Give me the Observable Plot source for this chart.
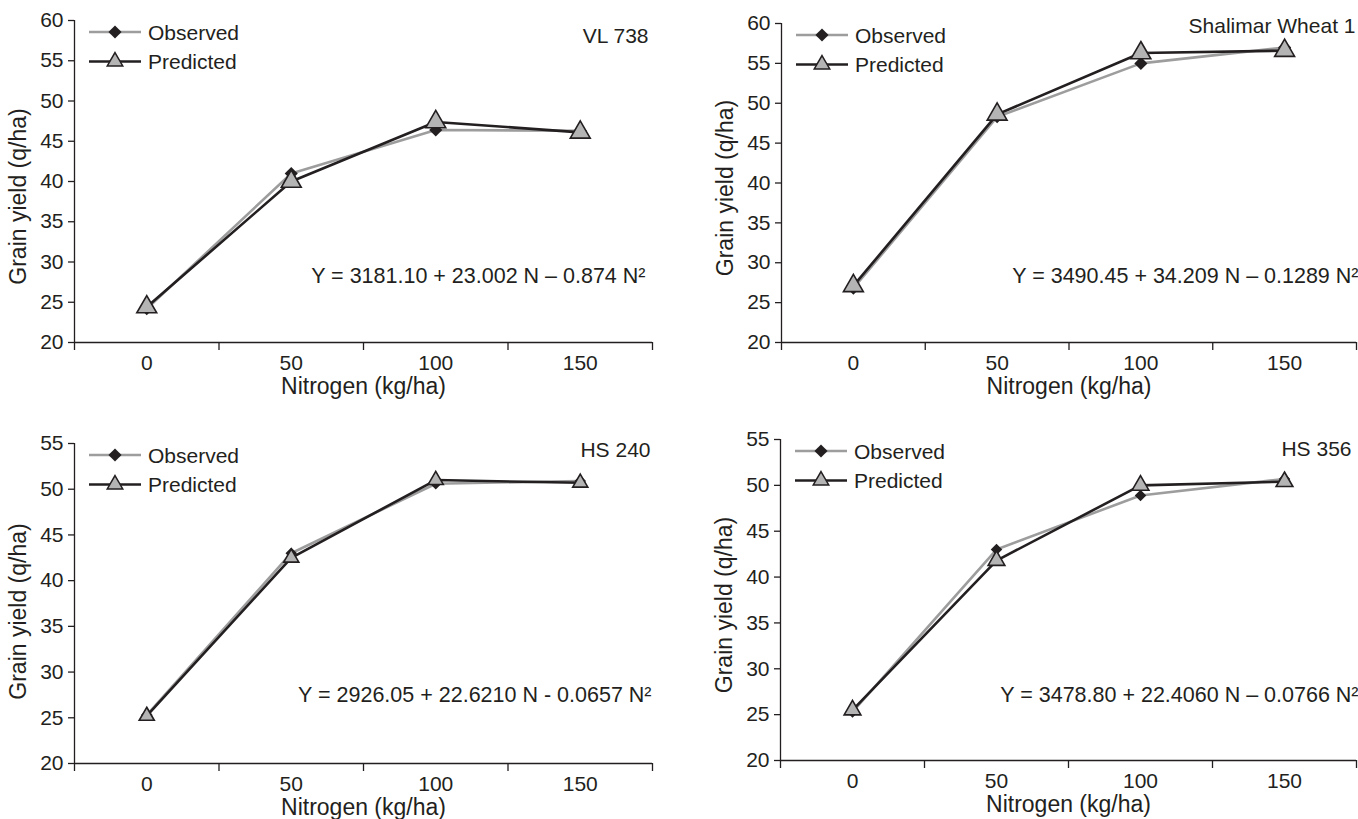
<!DOCTYPE html>
<html><head><meta charset="utf-8">
<script src="https://cdn.jsdelivr.net/npm/d3@7"></script>
<script src="https://cdn.jsdelivr.net/npm/@observablehq/plot@0.6"></script>
<style>
body{margin:0;background:#fff;width:1358px;height:819px;overflow:hidden;position:relative;font-family:"Liberation Sans",Arial,sans-serif;}
.panel{position:absolute;}
</style></head><body>
<div id="p0" class="panel" style="left:0;top:0"></div>
<div id="p1" class="panel" style="left:680px;top:0"></div>
<div id="p2" class="panel" style="left:0;top:400px"></div>
<div id="p3" class="panel" style="left:680px;top:400px"></div>
<script>
// ---- data ----
const nitrogen = [0, 50, 100, 150];
const nitrogenTicks = [0, 50, 100, 150];
const varieties = ["VL 738", "Shalimar Wheat 1", "HS 240", "HS 356"];
const observedVL738 = [24.2, 41.0, 46.4, 46.3];
const predictedVL738 = [24.4, 40.0, 47.4, 46.1];
const observedSW1 = [26.8, 48.3, 55.0, 57.0];
const predictedSW1 = [27.1, 48.6, 56.3, 56.6];
const observedHS240 = [25.3, 43.0, 50.6, 50.9];
const predictedHS240 = [25.2, 42.5, 51.0, 50.7];
const observedHS356 = [25.3, 43.0, 48.9, 50.7];
const predictedHS356 = [25.5, 41.8, 50.0, 50.4];
const equations = [
  "Y = 3181.10 + 23.002 N \u2013 0.874 N\u00b2",
  "Y = 3490.45 + 34.209 N \u2013 0.1289 N\u00b2",
  "Y = 2926.05 + 22.6210 N - 0.0657 N\u00b2",
  "Y = 3478.80 + 22.4060 N \u2013 0.0766 N\u00b2"
];
const yMax = [60, 60, 55, 55];
const yMin = 20;
const seriesNames = ["Observed", "Predicted"];
const xLabel = "Nitrogen (kg/ha)";
const yLabel = "Grain yield (q/ha)";

const observed = [observedVL738, observedSW1, observedHS240, observedHS356];
const predicted = [predictedVL738, predictedSW1, predictedHS240, predictedHS356];

// ---- layout / style ----
const layouts = [
  {width:680, height:400, ml:74, mr:28, mt:20, mb:58, triR:9.5, diaR:5.9, nameDx:-4, nameDy:16, eqDx:-7, eqDy:256, ylDy:15},
  {width:678, height:400, ml:101, mr:2, mt:23, mb:58, triR:9.5, diaR:5.9, nameDx:-1, nameDy:3, eqDx:2, eqDy:253, ylDy:5},
  {width:680, height:419, ml:74, mr:28, mt:43, mb:56, triR:7.2, diaR:5.2, nameDx:-2, nameDy:7, eqDx:-1, eqDy:252, ylDy:8},
  {width:678, height:419, ml:100, mr:2, mt:39, mb:59, triR:8, diaR:5.2, nameDx:-5, nameDy:10, eqDx:2, eqDy:256, ylDy:5}
];
const INK = "#231f20";
const GRAY_LINE = "#9d9d9d";
const TRI_FILL = "#b4b4b4";
const FS = 21;      // tick labels, legend, variety names
const FS_TITLE = 23; // axis titles
const FS_EQ = 21.5;

function legend() {
  return (index, scales, values, dims) => {
    const g = d3.create("svg:g");
    const x0 = dims.marginLeft;
    const y0 = dims.marginTop;
    const rows = [
      {y: y0 + 12, stroke: GRAY_LINE, sym: d3.symbolDiamond2, size: Math.PI*5.9*5.9, fill: INK, sStroke: "none", name: seriesNames[0]},
      {y: y0 + 41.5, stroke: INK, sym: d3.symbolTriangle2, size: Math.PI*7.4*7.4, fill: TRI_FILL, sStroke: INK, name: seriesNames[1]}
    ];
    for (const r of rows) {
      g.append("line").attr("x1", x0 + 15).attr("x2", x0 + 67).attr("y1", r.y).attr("y2", r.y)
        .attr("stroke", r.stroke).attr("stroke-width", 2.6);
      g.append("path").attr("d", d3.symbol(r.sym, r.size)()).attr("transform", `translate(${x0 + 41},${r.y})`)
        .attr("fill", r.fill).attr("stroke", r.sStroke).attr("stroke-width", 1.5);
      g.append("text").attr("x", x0 + 74).attr("y", r.y).attr("dy", "0.36em")
        .attr("text-anchor", "start").attr("font-size", FS).attr("fill", INK).text(r.name);
    }
    return g.node();
  };
}

for (let i = 0; i < 4; i++) {
  const L = layouts[i];
  const obs = nitrogen.map((n, j) => ({n, v: observed[i][j]}));
  const pre = nitrogen.map((n, j) => ({n, v: predicted[i][j]}));
  const chart = Plot.plot({
    width: L.width, height: L.height,
    marginLeft: L.ml, marginRight: L.mr, marginTop: L.mt, marginBottom: L.mb,
    style: {fontFamily: "'Liberation Sans', Arial, sans-serif", fontSize: FS + "px", color: INK, background: "white", overflow: "visible"},
    x: {domain: [-25, 175], axis: null},
    y: {domain: [yMin, yMax[i]], axis: null},
    marks: [
      Plot.axisY({ticks: d3.range(yMin, yMax[i] + 1, 5), tickSize: 6, tickPadding: 5, label: null, fontSize: FS, stroke: INK, strokeWidth: 1.3}),
      Plot.axisX({ticks: nitrogenTicks, tickSize: 0, tickPadding: 13, label: null, fontSize: FS}),
      Plot.axisX({ticks: [-25, 25, 75, 125, 175], tickSize: 8, tickFormat: () => "", label: null, stroke: INK, strokeWidth: 1.3}),
      Plot.ruleY([yMin], {stroke: INK, strokeWidth: 1.3}),
      Plot.ruleX([-25], {stroke: INK, strokeWidth: 1.3}),
      Plot.line(obs, {x: "n", y: "v", stroke: GRAY_LINE, strokeWidth: 2.6}),
      Plot.line(pre, {x: "n", y: "v", stroke: INK, strokeWidth: 2.6}),
      Plot.dot(obs, {x: "n", y: "v", symbol: "diamond2", r: L.diaR, fill: INK, stroke: "none"}),
      Plot.dot(pre, {x: "n", y: "v", symbol: "triangle2", r: L.triR, fill: TRI_FILL, stroke: INK, strokeWidth: 1.6}),
      legend(),
      Plot.text([varieties[i]], {text: d => d, frameAnchor: "top-right", textAnchor: "end", lineAnchor: "middle", dx: L.nameDx, dy: L.nameDy, fontSize: FS, fill: INK}),
      Plot.text([equations[i]], {text: d => d, frameAnchor: "top-right", textAnchor: "end", lineAnchor: "middle", dx: L.eqDx, dy: L.eqDy, fontSize: FS_EQ, fill: INK}),
      Plot.text([xLabel], {text: d => d, frameAnchor: "bottom", textAnchor: "middle", lineAnchor: "middle", dy: 44, fontSize: FS_TITLE, fill: INK}),
      Plot.text([yLabel], {text: d => d, frameAnchor: "left", textAnchor: "middle", lineAnchor: "middle", rotate: -90, dx: -56, dy: L.ylDy, fontSize: FS_TITLE, fill: INK})
    ]
  });
  document.getElementById("p" + i).appendChild(chart);
}
</script>
</body></html>
